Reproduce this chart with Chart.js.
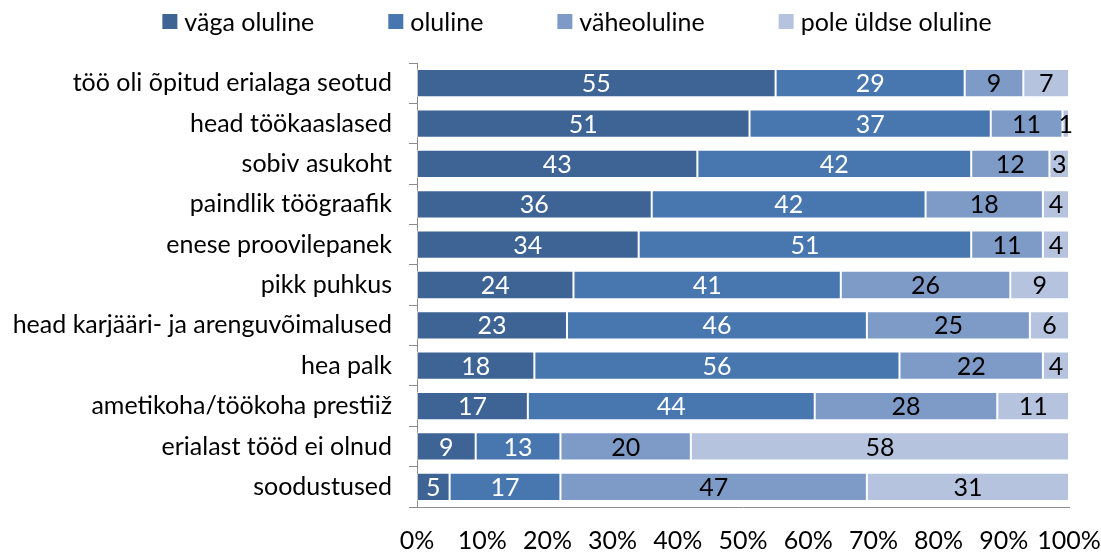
<!DOCTYPE html>
<html>
<head>
<meta charset="utf-8">
<script src="https://cdn.jsdelivr.net/npm/chart.js@4/dist/chart.umd.min.js"></script>
<style>
  html, body { margin: 0; padding: 0; background: #fff; }
  #wrap { width: 1101px; height: 553px; position: relative; }
</style>
</head>
<body>
<div id="wrap"><canvas id="c" width="1101" height="553"></canvas></div>
<script>
const categories = [
  "töö oli õpitud erialaga seotud",
  "head töökaaslased",
  "sobiv asukoht",
  "paindlik töögraafik",
  "enese proovilepanek",
  "pikk puhkus",
  "head karjääri- ja arenguvõimalused",
  "hea palk",
  "ametikoha/töökoha prestiiž",
  "erialast tööd ei olnud",
  "soodustused"
];
const seriesNames = ["väga oluline", "oluline", "väheoluline", "pole üldse oluline"];
const vagaOluline   = [55, 51, 43, 36, 34, 24, 23, 18, 17,  9,  5];
const oluline       = [29, 37, 42, 42, 51, 41, 46, 56, 44, 13, 17];
const vaheoluline   = [ 9, 11, 12, 18, 11, 26, 25, 22, 28, 20, 47];
const poleOluline   = [ 7,  1,  3,  4,  4,  9,  6,  4, 11, 58, 31];
const xTickValues   = [0, 10, 20, 30, 40, 50, 60, 70, 80, 90, 100];

const colors = ['#3D6495', '#4877B0', '#7E9BC8', '#B5C3DF'];
const labelColors = ['#ffffff', '#ffffff', '#000000', '#000000'];
const FONT = 'Lato';
const FS = 25;

const seriesData = [vagaOluline, oluline, vaheoluline, poleOluline];

const dataLabelPlugin = {
  id: 'dataLabels',
  afterDatasetsDraw(chart) {
    const ctx = chart.ctx;
    ctx.save();
    ctx.font = FS + 'px ' + FONT;
    ctx.textAlign = 'center';
    ctx.textBaseline = 'middle';
    chart.data.datasets.forEach((ds, di) => {
      const meta = chart.getDatasetMeta(di);
      meta.data.forEach((el, i) => {
        const p = el.getProps(['x', 'base', 'y'], true);
        ctx.fillStyle = labelColors[di];
        ctx.fillText(String(ds.data[i]), (p.x + p.base) / 2, p.y + 1);
      });
    });
    ctx.restore();
  }
};

const legendPlugin = {
  id: 'customLegend',
  afterDraw(chart) {
    const ctx = chart.ctx;
    ctx.save();
    ctx.font = FS + 'px ' + FONT;
    ctx.textBaseline = 'middle';
    ctx.textAlign = 'left';
    const box = 15, gapBoxText = 7, gapItems = 74;
    const widths = chart.data.datasets.map(d => ctx.measureText(d.label).width);
    const total = widths.reduce((a, w) => a + box + gapBoxText + w, 0) + gapItems * (widths.length - 1);
    let x = 577 - total / 2;
    const cy = 21.5;
    chart.data.datasets.forEach((d, i) => {
      ctx.fillStyle = d.backgroundColor;
      ctx.fillRect(x, cy - box / 2, box, box);
      ctx.fillStyle = '#000';
      ctx.fillText(d.label, x + box + gapBoxText, cy + 1);
      x += box + gapBoxText + widths[i] + gapItems;
    });
    ctx.restore();
  }
};

new Chart(document.getElementById('c'), {
  type: 'bar',
  data: {
    labels: categories,
    datasets: seriesData.map((arr, i) => ({
      label: seriesNames[i],
      data: arr,
      backgroundColor: colors[i],
      borderColor: 'rgba(255,255,255,0.45)',
      borderWidth: 1,
      borderSkipped: false,
      barPercentage: 0.7,
      categoryPercentage: 1.0
    }))
  },
  options: {
    indexAxis: 'y',
    responsive: false,
    animation: false,
    devicePixelRatio: 1,
    layout: { padding: { top: 63, right: 32, left: 0, bottom: 0 } },
    plugins: {
      legend: { display: false },
      tooltip: { enabled: false }
    },
    scales: {
      x: {
        stacked: true,
        min: 0,
        max: 100,
        afterBuildTicks(scale) { scale.ticks = xTickValues.map(v => ({ value: v })); },
        afterFit(scale) { scale.height = 46; scale.paddingLeft = 0; scale.paddingRight = 0; },
        ticks: {
          callback: v => v + '%',
          color: '#000',
          font: { family: FONT, size: FS },
          padding: 19,
          maxRotation: 0,
          autoSkip: false
        },
        grid: { display: false, drawTicks: false },
        border: { display: true, color: '#8C8C8C', width: 1 }
      },
      y: {
        stacked: true,
        afterFit(scale) { scale.width = 417; scale.paddingTop = 0; scale.paddingBottom = 0; },
        ticks: {
          color: '#000',
          font: { family: FONT, size: FS },
          padding: 17,
          autoSkip: false
        },
        grid: {
          display: true,
          drawOnChartArea: false,
          drawTicks: true,
          tickLength: 8,
          offset: true,
          color: '#8C8C8C'
        },
        border: { display: true, color: '#8C8C8C', width: 1 }
      }
    }
  },
  plugins: [dataLabelPlugin, legendPlugin]
});
</script>
</body>
</html>
